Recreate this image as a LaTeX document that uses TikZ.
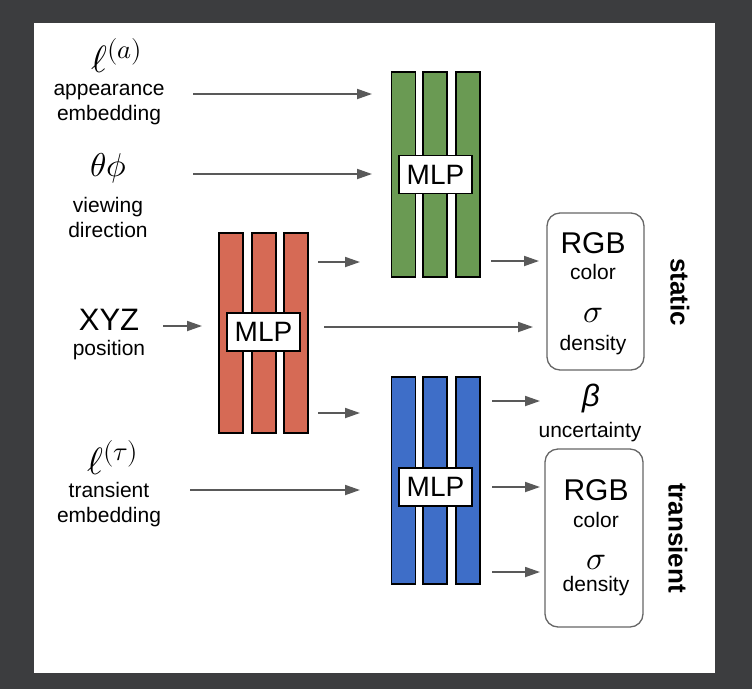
\documentclass[tikz,border=0pt]{standalone}
\usepackage{fontspec}
\usepackage{unicode-math}
\setmainfont{Liberation Sans}
\setmathfont{Latin Modern Math}
\usetikzlibrary{arrows.meta}
\definecolor{bgdark}{HTML}{3C3D3F}
\definecolor{arrgray}{HTML}{595959}
\definecolor{boxgray}{HTML}{666666}
\definecolor{mgreen}{RGB}{106,154,83}
\definecolor{mred}{RGB}{214,106,85}
\definecolor{mblue}{RGB}{62,110,200}
\tikzset{
  arr/.style={draw=arrgray, line width=1.8pt, -{Triangle[length=15pt,width=10pt]}},
  bar/.style={draw=black, line width=1.3pt, minimum width=24pt, inner sep=0pt},
  mlpbox/.style={draw=black, fill=white, line width=1.3pt, minimum width=73pt, minimum height=38pt, inner sep=0pt, font=\fontsize{28}{28}\selectfont},
  outbox/.style={draw=boxgray, line width=1.3pt, rounded corners=13pt, inner sep=0pt},
  small/.style={inner sep=0pt, align=center, font=\fontsize{21}{25}\selectfont},
  big/.style={inner sep=0pt, font=\fontsize{31}{31}\selectfont},
  mth/.style={inner sep=0pt, font=\fontsize{33}{33}\selectfont},
  emb/.style={inner sep=0pt, font=\fontsize{38}{38}\selectfont},
  side/.style={inner sep=0pt, rotate=-90, font=\fontsize{26}{26}\selectfont\bfseries}
}
\begin{document}
\begin{tikzpicture}[x=1pt,y=-1pt]
\fill[bgdark] (0,0) rectangle (752,689);
\fill[white] (34,23) rectangle (715,673);
\useasboundingbox (0,0) rectangle (752,689);

% left labels
\node[emb] (la) at (117,56) {$\ell^{(a)}$};
\node[small] (app) at (109,104.5) {appearance\\embedding};
\node[mth] (tp) at (108,168) {$\theta\phi$};
\node[small] (view) at (108,217.5) {viewing\\direction};
\node[big] (xyz) at (109,320) {XYZ};
\node[small] (pos) at (109,350) {position};
\node[emb] (lt) at (113,458) {$\ell^{(\tau)}$};
\node[small] (trans) at (109,505) {transient\\embedding};

% green MLP
\node[bar, fill=mgreen, minimum height=205pt] (g1) at (403.5,174.5) {};
\node[bar, fill=mgreen, minimum height=205pt] (g2) at (435,174.5) {};
\node[bar, fill=mgreen, minimum height=205pt] (g3) at (468,174.5) {};
\node[mlpbox] (gm) at (435.5,174.5) {MLP};

% red MLP
\node[bar, fill=mred, minimum height=200pt] (r1) at (231,333) {};
\node[bar, fill=mred, minimum height=200pt] (r2) at (264,333) {};
\node[bar, fill=mred, minimum height=200pt] (r3) at (296,333) {};
\node[mlpbox] (rm) at (263.5,332) {MLP};

% blue MLP
\node[bar, fill=mblue, minimum height=207pt] (b1) at (403.5,480.5) {};
\node[bar, fill=mblue, minimum height=207pt] (b2) at (435,480.5) {};
\node[bar, fill=mblue, minimum height=207pt] (b3) at (468,480.5) {};
\node[mlpbox] (bm) at (435.5,487) {MLP};

% output boxes
\node[outbox, minimum width=97pt, minimum height=157pt] (sbox) at (595.5,291.5) {};
\node[big, font=\fontsize{30}{30}\selectfont] (srgb) at (593,243) {RGB};
\node[small] (scol) at (593,272) {color};
\node[mth] (ssig) at (593,316) {$\sigma$};
\node[small] (sden) at (593,345) {density};
\node[side] (stat) at (680,292) {static};

\node[inner sep=0pt, font=\fontsize{31}{31}\selectfont\itshape] (beta) at (591,398) {β};
\node[small] (unc) at (590,432) {uncertainty};

\node[outbox, minimum width=98pt, minimum height=178pt] (tbox) at (594,538) {};
\node[big, font=\fontsize{30}{30}\selectfont] (trgb) at (596,490) {RGB};
\node[small] (tcol) at (596,520) {color};
\node[mth] (tsig) at (596,563) {$\sigma$};
\node[small] (tden) at (596,586) {density};
\node[side] (tran) at (678,538) {transient};

% arrow endpoints
\coordinate (a1s) at (193,94);   \coordinate (a1e) at (372,94);
\coordinate (a2s) at (193,174);  \coordinate (a2e) at (372,174);
\coordinate (a3s) at (163,326);  \coordinate (a3e) at (202,326);
\coordinate (a4s) at (190,490);  \coordinate (a4e) at (360,490);
\coordinate (a5s) at (318,262);  \coordinate (a5e) at (360,262);
\coordinate (a6s) at (324,327);  \coordinate (a6e) at (533,327);
\coordinate (a7s) at (318,413);  \coordinate (a7e) at (360,413);
\coordinate (a8s) at (491,261);  \coordinate (a8e) at (539,261);
\coordinate (a9s) at (492,401);  \coordinate (a9e) at (540,401);
\coordinate (a10s) at (492,487); \coordinate (a10e) at (540,487);
\coordinate (a11s) at (492,572); \coordinate (a11e) at (540,572);

\draw[arr] (a1s) -- (a1e);
\draw[arr] (a2s) -- (a2e);
\draw[arr] (a3s) -- (a3e);
\draw[arr] (a4s) -- (a4e);
\draw[arr] (a5s) -- (a5e);
\draw[arr] (a6s) -- (a6e);
\draw[arr] (a7s) -- (a7e);
\draw[arr] (a8s) -- (a8e);
\draw[arr] (a9s) -- (a9e);
\draw[arr] (a10s) -- (a10e);
\draw[arr] (a11s) -- (a11e);
\end{tikzpicture}
\end{document}
